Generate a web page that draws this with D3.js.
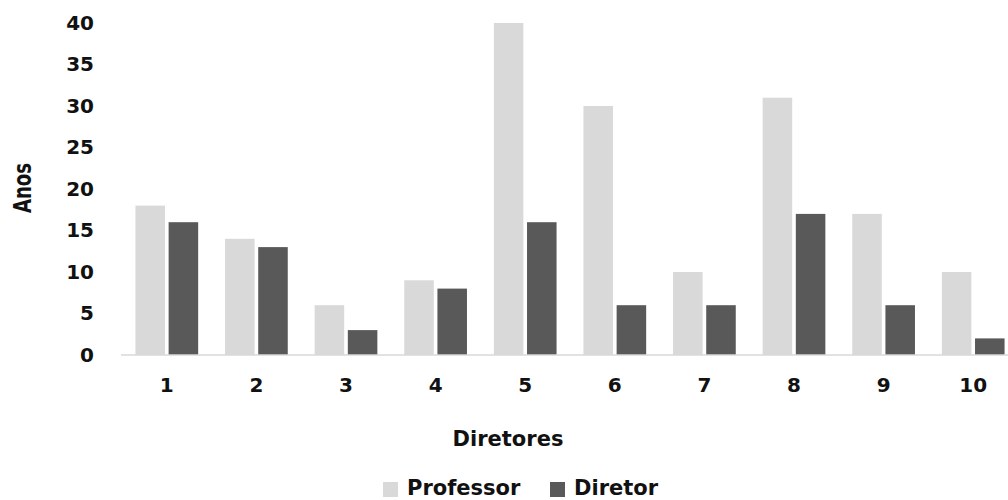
<!DOCTYPE html>
<html>
<head>
<meta charset="utf-8">
<script src="https://cdn.jsdelivr.net/npm/d3@7"></script>
<style>
  html, body { margin: 0; padding: 0; background: #fff; overflow: hidden; }
  svg { display: block; }
  text { font-family: "DejaVu Sans", sans-serif; font-weight: bold; fill: #111; }
</style>
</head>
<body>
<svg id="chart" width="1008" height="500"></svg>
<script>
// Years as teacher vs. years as director, per director
const categories = ["1", "2", "3", "4", "5", "6", "7", "8", "9", "10"];
const professor = [18, 14, 6, 9, 40, 30, 10, 31, 17, 10];
const diretor   = [16, 13, 3, 8, 16, 6, 6, 17, 6, 2];
const seriesNames = ["Professor", "Diretor"];
const seriesColors = ["#d9d9d9", "#595959"];
const yTicks = [0, 5, 10, 15, 20, 25, 30, 35, 40];

const svg = d3.select("#chart");

const x = d3.scaleBand()
  .domain(categories)
  .range([122, 1018])
  .paddingInner(0.3)
  .paddingOuter(0.15);

const xSub = d3.scaleBand()
  .domain(seriesNames)
  .range([0, x.bandwidth()])
  .paddingInner(0.11);

const y = d3.scaleLinear()
  .domain([0, 40])
  .range([355, 23]);

const rows = categories.map((c, i) => ({ cat: c, values: [professor[i], diretor[i]] }));

// bars
const groups = svg.append("g")
  .selectAll("g")
  .data(rows)
  .join("g")
  .attr("transform", d => `translate(${x(d.cat)},0)`);

groups.selectAll("rect")
  .data(d => d.values.map((v, k) => ({ name: seriesNames[k], v, k })))
  .join("rect")
  .attr("x", d => xSub(d.name))
  .attr("width", xSub.bandwidth())
  .attr("y", d => y(d.v))
  .attr("height", d => y(0) - y(d.v))
  .attr("fill", d => seriesColors[d.k]);

// baseline
svg.append("line")
  .attr("x1", 121).attr("x2", 1008)
  .attr("y1", y(0)).attr("y2", y(0))
  .attr("stroke", "#d9d9d9").attr("stroke-width", 1.5);

// y axis labels
const yAxis = d3.axisLeft(y).tickValues(yTicks).tickSize(0).tickPadding(0);
const gy = svg.append("g").attr("transform", "translate(94,0)").call(yAxis);
gy.select(".domain").remove();
gy.selectAll("text")
  .style("font-family", "'DejaVu Sans', sans-serif")
  .style("font-weight", "bold")
  .style("font-size", "20px")
  .attr("fill", "#111");

// x axis labels
const xAxis = d3.axisBottom(x).tickSize(0).tickPadding(0);
const gx = svg.append("g").attr("transform", "translate(0,378)").call(xAxis);
gx.select(".domain").remove();
gx.selectAll("text")
  .style("font-family", "'DejaVu Sans', sans-serif")
  .style("font-weight", "bold")
  .style("font-size", "20px")
  .attr("fill", "#111");

// axis titles
svg.append("text")
  .attr("transform", "translate(31,188) rotate(-90)")
  .attr("text-anchor", "middle")
  .attr("textLength", 50)
  .attr("lengthAdjust", "spacingAndGlyphs")
  .style("font-size", "25px")
  .text("Anos");

svg.append("text")
  .attr("x", 508).attr("y", 446)
  .attr("text-anchor", "middle")
  .style("font-size", "21px")
  .text("Diretores");

// legend
const legend = svg.append("g");
const legendX = [383, 550];
seriesNames.forEach((name, k) => {
  legend.append("rect")
    .attr("x", legendX[k]).attr("y", 482)
    .attr("width", 15).attr("height", 15)
    .attr("fill", seriesColors[k]);
  legend.append("text")
    .attr("x", legendX[k] + 24).attr("y", 495)
    .style("font-size", "21px")
    .text(name);
});
</script>
</body>
</html>
